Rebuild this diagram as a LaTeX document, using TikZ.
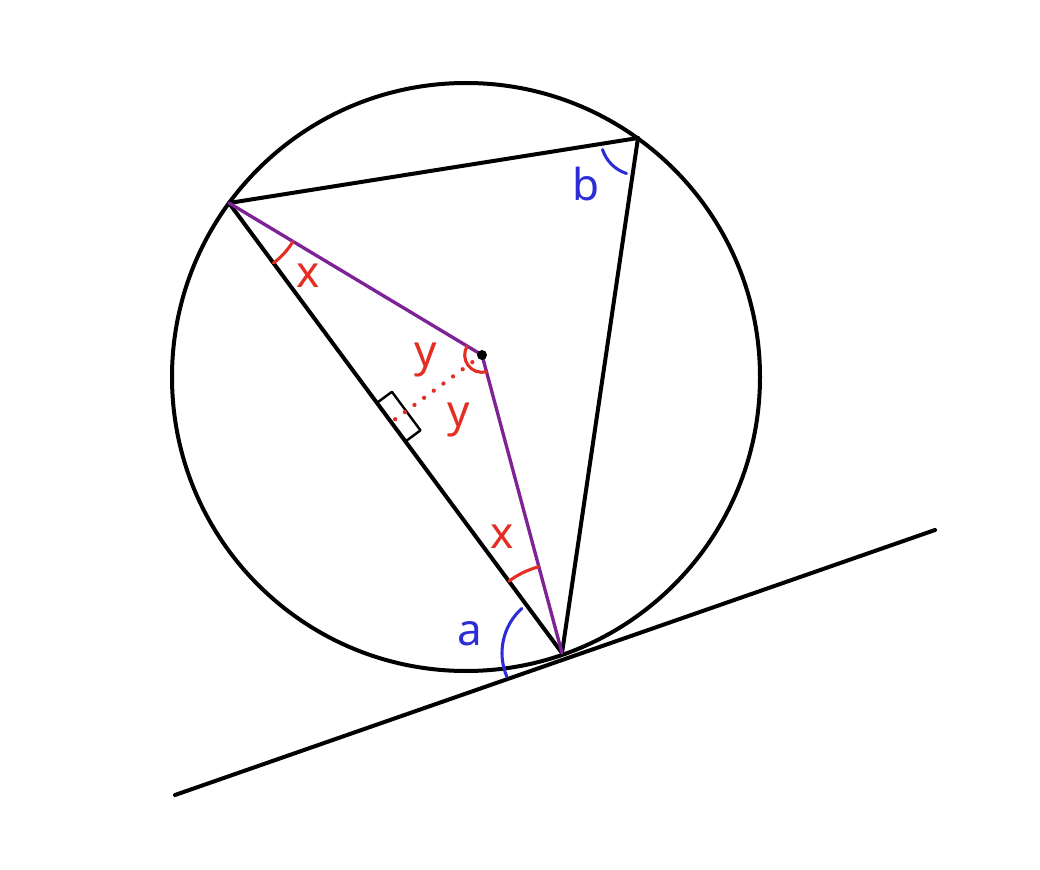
\documentclass[tikz,border=0pt]{standalone}
\usepackage{fontspec}
\setmainfont{Noto Sans}
\usetikzlibrary{angles,calc}
\definecolor{pur}{RGB}{125,35,150}
\definecolor{rd}{RGB}{228,45,35}
\definecolor{bl}{RGB}{45,45,215}
\tikzset{
  blk/.style={draw=black, line width=3pt},
  purline/.style={draw=pur, line width=2.5pt},
  redarc/.style={draw=rd, line width=2.3pt},
  bluearc/.style={draw=bl, line width=2.3pt},
  lab/.style={font=\fontsize{33}{36}\selectfont, inner sep=0pt}
}
\begin{document}
\begin{tikzpicture}[x=0.75pt,y=0.75pt,line cap=round,line join=round]
\useasboundingbox (0,0) rectangle (1040,-870);
\fill[white] (0,0) rectangle (1040,-870);
\coordinate (C) at (466,-377);
\coordinate (A) at (229,-203);
\coordinate (B) at (638,-138);
\coordinate (T) at (562,-653);
\coordinate (O) at (482,-355);
\coordinate (L) at (175,-795);
\coordinate (R) at (935,-530);
\coordinate (F) at ($(A)!(O)!(T)$);
% circle and lines
\draw[blk] (C) circle (294);
\draw[blk] (L) -- (R);
\draw[blk] (A) -- (B);
\draw[blk] (B) -- (T);
\draw[blk] (A) -- (T);
\draw[purline] (A) -- (O) -- (T);
% right angle mark
\coordinate (P1) at ($(F)!18pt!(A)$);
\coordinate (P2) at ($(F)!18pt!(T)$);
\coordinate (Q1) at ($(P1)!14pt!-90:(A)$);
\coordinate (Q2) at ($(P2)!14pt!90:(T)$);
\draw[black, line width=1.8pt] (P1) -- (Q1) -- (Q2) -- (P2);
% dotted perpendicular
\draw[rd, line width=3.2pt, dash pattern=on 0pt off 9pt, line cap=round] (O) -- (F);
\fill[black] (O) circle (5);
% angle arcs
\pic[redarc, angle radius=56pt] {angle=T--A--O};
\pic[redarc, angle radius=67pt] {angle=O--T--A};
\pic[redarc, angle radius=13pt] {angle=A--O--F};
\pic[redarc, angle radius=13pt] {angle=F--O--T};
\draw[bluearc] ($(T)+(132:45pt)$) arc[start angle=132, end angle=203, radius=45pt];
\draw[bluearc] ($(B)+(198:28pt)$) arc[start angle=198, end angle=252, radius=28pt];
% labels
\node[lab, text=rd] (x1) at (308,-276) {x};
\node[lab, text=rd] (x2) at (502,-537) {x};
\node[lab, text=rd] (y1) at (426,-360) {y};
\node[lab, text=rd] (y2) at (459,-420) {y};
\node[lab, text=bl] (la) at (470,-634) {a};
\node[lab, text=bl] (lb) at (586,-184) {b};
\end{tikzpicture}
\end{document}
